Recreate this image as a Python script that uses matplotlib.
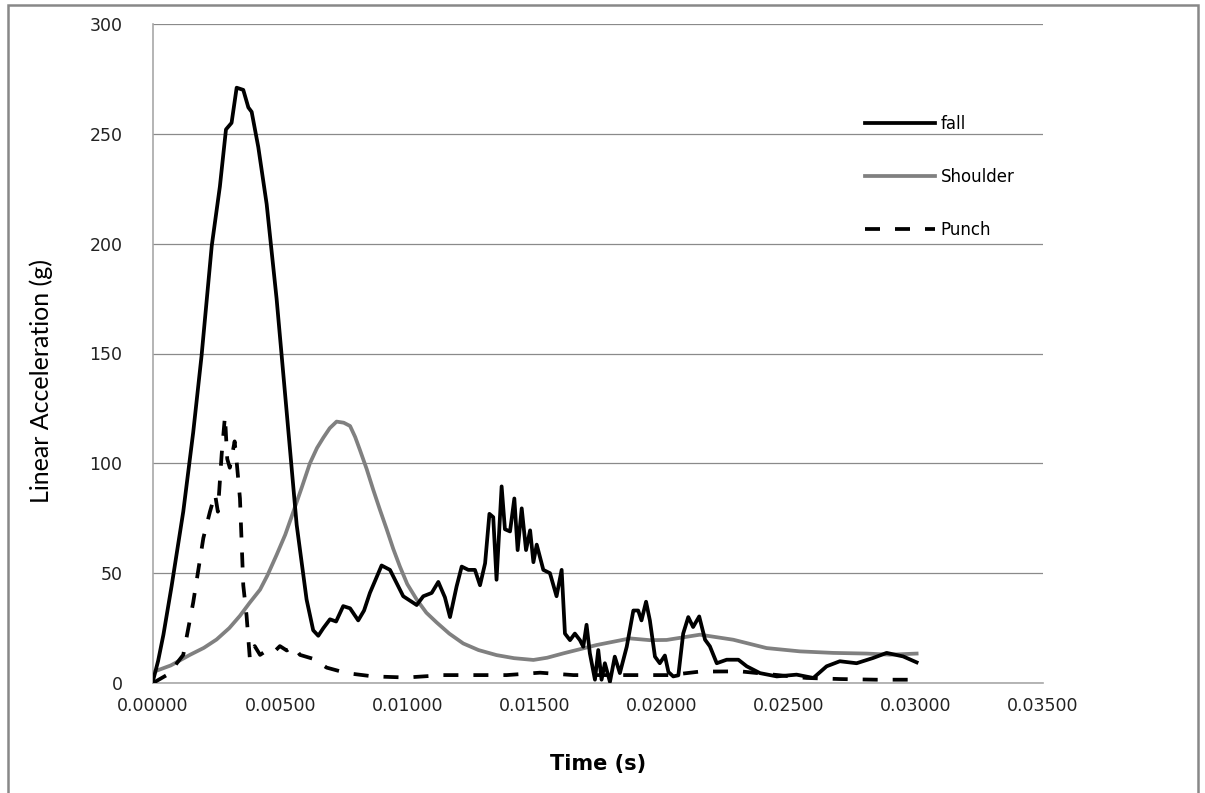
import matplotlib
matplotlib.use("Agg")
import matplotlib.pyplot as plt
from matplotlib.patches import Rectangle
from matplotlib.ticker import FormatStrFormatter, MultipleLocator
import numpy as np

# ---- data (time in ms, acceleration in g) ----
fall_t = [0.00, 0.20, 0.41, 0.73, 1.19, 1.58, 1.91, 2.31, 2.63, 2.87, 3.09, 3.29, 3.55, 3.75, 3.88,
          4.14, 4.47, 4.86, 5.26, 5.65, 6.04, 6.30, 6.50, 6.70, 6.96, 7.20, 7.48, 7.75, 8.07, 8.30,
          8.53, 8.99, 9.32, 9.84, 10.37, 10.63, 10.96, 11.22, 11.48, 11.68, 11.94, 12.14, 12.40,
          12.66, 12.86, 13.06, 13.23, 13.38, 13.51, 13.71, 13.84, 14.04, 14.21, 14.34, 14.50, 14.67,
          14.83, 14.96, 15.09, 15.35, 15.61, 15.87, 16.07, 16.20, 16.40, 16.59, 16.79, 16.92, 17.05,
          17.18, 17.38, 17.51, 17.64, 17.77, 17.97, 18.16, 18.36, 18.63, 18.89, 19.08, 19.21, 19.39,
          19.54, 19.74, 19.93, 20.13, 20.27, 20.46, 20.66, 20.85, 21.05, 21.24, 21.48, 21.71, 21.90,
          22.17, 22.56, 23.02, 23.35, 23.87, 24.53, 25.31, 25.97, 26.49, 27.01, 27.67, 28.32, 28.85,
          29.50, 30.03]
fall_v = [1, 10, 22, 44, 78, 114, 149, 199, 226, 252, 255, 271, 270, 262, 260,
          244, 218, 175, 123, 72, 38, 24, 21.5, 25, 29, 28, 35, 34, 28.5, 33,
          41, 53.5, 51.5, 39.5, 35.5, 39.5, 41, 46, 39, 30, 44, 53, 51.5,
          51.5, 44.5, 54.5, 77, 75.5, 47, 89.5, 70, 69, 84, 60.5, 79.5, 60.5,
          69.5, 55, 63, 51.5, 50, 39.5, 51.5, 22.5, 19.5, 22.5, 19.5, 16.5, 26.5,
          13.5, 1.5, 15, 1.5, 9, 0.5, 12, 4.5, 16.5, 33, 33, 28.5, 37,
          28.5, 12, 9, 12.5, 5, 3, 3.5, 22.5, 30, 25.5, 30.3, 19.7, 16.7,
          9, 10.6, 10.6, 7.6, 4.5, 3, 3.8, 2.3, 7.6, 9.9, 9, 11.4, 13.7,
          12.1, 9.4]

shoulder_t = [0.00, 0.70, 1.45, 2.00, 2.50, 3.00, 3.42, 3.80, 4.21, 4.50, 4.86, 5.20, 5.52, 5.85,
              6.17, 6.45, 6.70, 6.95, 7.22, 7.50, 7.75, 7.95, 8.14, 8.40, 8.66, 8.92, 9.19, 9.45,
              9.71, 10.00, 10.37, 10.75, 11.16, 11.65, 12.20, 12.80, 13.51, 14.20, 14.96, 15.50,
              16.14, 17.45, 18.76, 19.54, 20.20, 21.51, 22.82, 24.13, 25.44, 26.75, 28.06, 28.98,
              30.03]
shoulder_v = [5, 8, 12.8, 16, 19.8, 25, 30.6, 36.5, 42.5, 49, 58.3, 67.5, 78, 89,
              100, 107, 111.7, 116, 119, 118.5, 117, 112, 106, 97.5, 88, 79, 70, 61,
              53, 45, 38, 32, 27.5, 22.5, 18, 15, 12.7, 11.3, 10.5, 11.5,
              13.5, 17.3, 20.3, 19.5, 19.6, 22, 19.7, 15.9, 14.4, 13.7, 13.4, 12.9,
              13.4]

punch_t = [0.00, 0.60, 1.19, 1.58, 1.98, 2.24, 2.44, 2.55, 2.70, 2.83, 2.92, 3.02, 3.21, 3.28,
           3.42, 3.55, 3.68, 3.81, 4.00, 4.21, 4.47, 4.73, 4.99, 5.26, 5.52, 5.78, 6.30, 6.83,
           7.62, 8.66, 9.97, 11.42, 12.73, 13.91, 15.22, 16.53, 19.02, 20.33, 21.51, 23.09,
           25.70, 27.01, 28.45, 30.03]
punch_v = [0, 4, 12.8, 36.6, 66, 78, 86, 78, 104, 121.5, 102, 98, 110, 102,
           84, 44.5, 30.6, 10.9, 16.8, 12.8, 14.8, 13.8, 16.8, 14.8, 16.8, 12.8, 11, 7,
           4.5, 3, 2.5, 3.6, 3.6, 3.6, 4.7, 3.6, 3.6, 3.6, 5.2, 5.3,
           2.3, 1.8, 1.5, 1.5]

series_labels = ["fall", "Shoulder", "Punch"]
x_label = "Time (s)"
y_label = "Linear Acceleration (g)"

# ---- figure ----
fig = plt.figure(figsize=(12.05, 7.93), dpi=100)
ax = fig.add_axes([153/1205, 1-683/793, (1043-153)/1205, (683-24)/793])

lw = 2.7
ax.plot(np.array(fall_t)/1000, fall_v, color="black", lw=lw, label=series_labels[0],
        solid_joinstyle="round", zorder=3)
ax.plot(np.array(shoulder_t)/1000, shoulder_v, color="#808080", lw=lw, label=series_labels[1],
        solid_joinstyle="round", zorder=2)
ax.plot(np.array(punch_t)/1000, punch_v, color="black", lw=lw, ls=(0, (4.0, 4.0)),
        label=series_labels[2], zorder=3)

ax.set_xlim(0, 0.035)
ax.set_ylim(0, 300)
ax.xaxis.set_major_locator(MultipleLocator(0.005))
ax.yaxis.set_major_locator(MultipleLocator(50))
ax.xaxis.set_major_formatter(FormatStrFormatter("%.5f"))
ax.yaxis.set_major_formatter(FormatStrFormatter("%d"))

ax.grid(axis="y", color="#8a8a8a", lw=0.9)
ax.set_axisbelow(True)
for s in ["top", "right"]:
    ax.spines[s].set_visible(False)
for s in ["left", "bottom"]:
    ax.spines[s].set_color("#a8a8a8")
    ax.spines[s].set_linewidth(1.2)

ax.tick_params(axis="both", length=0, labelsize=12.5, labelcolor="#222222")
ax.tick_params(axis="y", pad=22)
ax.tick_params(axis="x", pad=10)

ax.set_xlabel(x_label, fontsize=15, fontweight="bold", labelpad=28)
ax.set_ylabel(y_label, fontsize=18, family=["Lato", "DejaVu Sans"], va="center")
ax.yaxis.set_label_coords((41-153)/890, 1-(381-24)/659)

leg = ax.legend(loc="upper left", bbox_to_anchor=(865/1205, 1-115/793),
                bbox_transform=fig.transFigure, frameon=False, fontsize=12,
                handlelength=4.2, handletextpad=0.35, labelspacing=2.1,
                borderpad=0, borderaxespad=0)

# outer chart border
fig.patches.append(Rectangle((8/1205, -0.02), (1198-8)/1205, 1.02-5/793,
                             transform=fig.transFigure, fill=False,
                             edgecolor="#888888", lw=1.8, zorder=0))

fig.savefig("out.png", dpi=100)
